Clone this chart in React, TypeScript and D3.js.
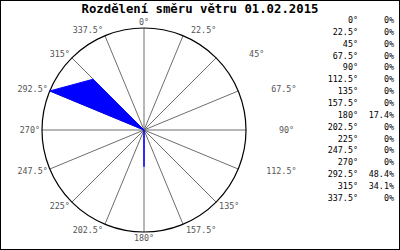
import React from "react";
import * as d3 from "d3";

const title = "Rozdělení směru větru 01.02.2015";
const directions = [0, 22.5, 45, 67.5, 90, 112.5, 135, 157.5, 180, 202.5, 225, 247.5, 270, 292.5, 315, 337.5];
const percents = [0, 0, 0, 0, 0, 0, 0, 0, 17.4, 0, 0, 0, 0, 48.4, 34.1, 0];

const W = 400;
const H = 250;
const cx = 144;
const cy = 130;
const R = 102;
const mono = "'DejaVu Sans Mono', 'Liberation Mono', monospace";

export default function App() {
  const rScale = d3.scaleLinear().domain([0, d3.max(percents) as number]).range([0, R]);
  const rad = (deg: number) => (deg * Math.PI) / 180;
  const pts: [number, number][] = directions.map((d, i) => [rad(d), rScale(percents[i])]);
  const radial = d3.lineRadial<[number, number]>().angle((p) => p[0]).radius((p) => p[1]).curve(d3.curveLinearClosed);
  const pathD = radial(pts) || "";
  const rowY = d3.scalePoint<number>().domain(directions).range([20, 198]);

  const fmt = (v: number) => `${v}°`;
  const fmtP = (v: number) => `${v}%`;

  return (
    <svg width={W} height={H} style={{ display: "block", position: "absolute", left: 0, top: 0 }}>
      <rect x={0.5} y={0.5} width={W - 1} height={H - 1} fill="#fff" stroke="#000" />
      <text x={200} y={13} textAnchor="middle" fontFamily={mono} fontWeight="bold" fontSize={12.3} fill="#000">
        {title}
      </text>
      <g>
        {directions.map((d) => {
          const a = rad(d);
          return (
            <line key={"s" + d} x1={cx} y1={cy} x2={cx + R * Math.sin(a)} y2={cy - R * Math.cos(a)} stroke="#6e6e6e" strokeWidth={1} />
          );
        })}
        <circle cx={cx} cy={cy} r={R} fill="none" stroke="#000" strokeWidth={1.2} />
        <path d={pathD} transform={`translate(${cx},${cy})`} fill="#0000ff" stroke="#0000ff" strokeWidth={1} />
        {directions.map((d) => {
          const a = rad(d);
          const s = Math.sin(a);
          const c = Math.cos(a);
          const px = cx + R * s;
          const py = cy - R * c;
          const anchor = Math.abs(s) < 0.01 ? "middle" : s > 0 ? "start" : "end";
          let extra = 0;
          if (s > 0.6 && c > -0.1) extra = 30;
          else if (s > 0.6 && c > -0.6) extra = 25;
          else if (s > 0 && c > 0.6) extra = 5;
          const x = Math.abs(s) < 0.01 ? px : s > 0 ? px + 3 + extra : px - 2;
          const y = py - c * 6;
          return (
            <text key={"l" + d} x={x} y={y} dy="0.35em" textAnchor={anchor} fontFamily={mono} fontSize={8.4} fill="#555">
              {fmt(d)}
            </text>
          );
        })}
      </g>
      <g fontFamily={mono} fontSize={8.4} fill="#000">
        {directions.map((d, i) => (
          <g key={"t" + d}>
            <text x={358} y={rowY(d)} dy="0.35em" textAnchor="end">{fmt(d)}</text>
            <text x={394} y={rowY(d)} dy="0.35em" textAnchor="end">{fmtP(percents[i])}</text>
          </g>
        ))}
      </g>
    </svg>
  );
}
